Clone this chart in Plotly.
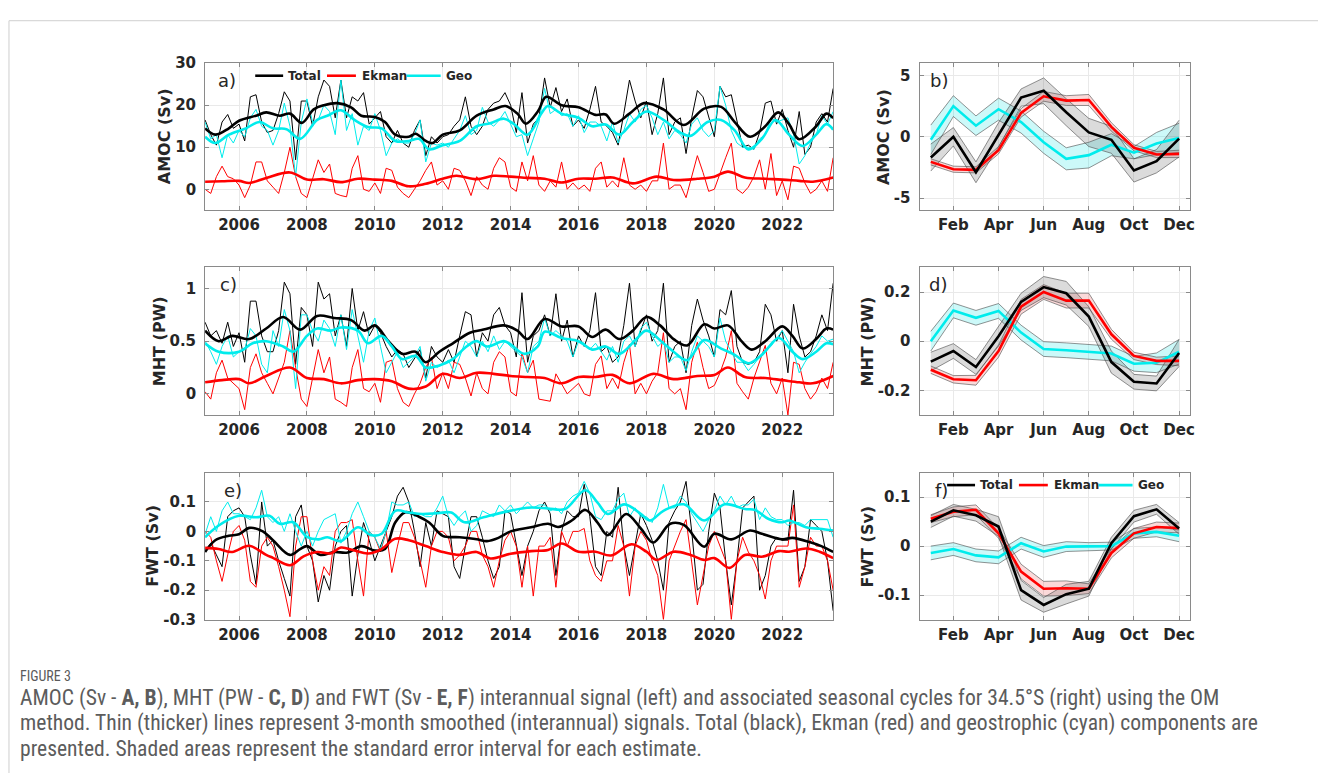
import numpy as np
import plotly.graph_objects as go

W, H = 1322, 782

# ---------------- time axes ----------------
t_thin = 2005 + np.arange(112) / 6.0  # bi-monthly samples 2005.0 .. 2023.5

# ---------------- panel a : AMOC (Sv) ----------------
a_tot_thin = [16.5, 13.0, 10.5, 16.0, 17.8, 14.5,
              15.5, 11.5, 22.0, 22.5, 16.0, 13.5,
              14.0, 18.0, 23.2, 21.0, 7.0, 21.0,
              21.0, 15.0, 22.0, 26.0, 24.5, 17.0,
              26.0, 17.0, 22.0, 21.0, 23.0, 15.5,
              17.0, 18.5, 12.5, 11.0, 14.0, 11.0,
              10.0, 14.0, 16.5, 8.0, 12.5, 11.0,
              12.5, 13.0, 15.0, 16.5, 22.0, 15.0,
              13.0, 15.0, 19.0, 20.5, 21.0, 23.0,
              20.0, 13.5, 23.0, 11.0, 15.5, 17.0,
              26.5, 19.5, 24.2, 18.5, 21.5, 15.0,
              16.5, 14.5, 19.0, 24.5, 16.0, 15.0,
              13.5, 10.5, 18.0, 26.0, 21.0, 17.0,
              21.0, 13.0, 18.0, 26.5, 13.0, 16.0,
              17.0, 8.5, 17.0, 23.5, 22.0, 17.0,
              12.5, 24.5, 22.0, 22.5, 16.0, 10.0,
              10.5, 9.5, 13.5, 20.5, 21.0, 15.5,
              19.0, 14.0, 10.0, 18.5, 8.3, 10.0,
              16.0, 18.0, 16.0, 24.0]
a_geo_thin = [16.0, 12.0, 13.0, 7.5, 13.0, 11.0,
              14.0, 12.5, 17.0, 19.0, 15.0, 14.0,
              10.5, 14.0, 20.5, 15.0, 3.0, 16.0,
              21.5, 16.0, 16.5, 20.0, 18.5, 13.0,
              26.0, 14.0, 18.0, 10.5, 15.0, 14.0,
              18.0, 14.0, 8.0, 11.0, 12.0, 11.0,
              11.0, 13.0, 16.5, 6.5, 11.0, 10.5,
              11.0, 10.0, 12.0, 14.0, 17.5, 13.0,
              14.0, 19.5, 16.0, 15.0, 16.5, 18.5,
              15.5, 12.5, 13.0, 8.0, 12.0, 16.0,
              24.0, 18.0, 19.0, 17.5, 18.0, 15.0,
              17.5, 13.5, 16.0, 16.0, 15.0, 11.5,
              16.0, 11.0, 14.0, 18.0, 16.0, 19.0,
              20.0, 17.0, 13.0, 16.0, 12.0, 14.0,
              13.0, 11.0, 15.5, 17.0, 14.0, 12.5,
              14.0, 24.5, 20.0, 14.0, 11.0, 10.0,
              10.0, 9.5, 12.0, 13.0, 17.0, 16.0,
              16.5, 17.0, 13.0, 6.0, 8.0, 11.0,
              13.0, 17.5, 15.5, 18.5]
a_ekm_thin = [0.0, -1.0, 3.0, 5.5, 3.0, 2.5,
              1.0, -2.0, 1.0, 6.5, 6.5, 2.0,
              0.5, -1.0, 4.0, 10.0, 3.0, -1.0,
              -2.0, 2.5, 7.0, 4.0, 6.0, -1.0,
              -1.5, -1.8, 5.0, 8.0, 0.0, -0.5,
              1.5, -1.0, 5.0, 4.5, 0.5, -1.0,
              -2.0, 0.0, 2.0, 4.5, 6.5, 1.0,
              2.0, 0.0, 5.0, 4.5, 2.0, -1.5,
              3.0, 1.0, 0.0, 5.0, 7.5, 6.5,
              0.5, -0.5, 6.5, 2.0, 8.0, 1.0,
              -0.5, 2.0, 0.5, 6.5, 0.0, 1.5,
              0.0, 1.0, -0.5, 5.0, 6.5, 0.5,
              2.0, 0.5, 7.5, 1.0, 0.0, 1.0,
              -0.5, 2.0, 2.0, 11.0, 0.0, 1.0,
              1.0, -2.0, 3.0, 8.0, 4.0, -0.5,
              0.0, 4.0, 7.5, 11.0, 0.0, -1.0,
              0.5, 3.0, 7.0, 0.0, 8.5, -1.5,
              2.0, -2.5, 5.5, 5.0, 1.5, -1.0,
              0.0, 2.0, -0.5, 7.5]

a_tot_t = [2005.0, 2005.3, 2005.7, 2006.0, 2006.5, 2006.8, 2007.2, 2007.5, 2007.85, 2008.2,
           2008.5, 2008.9, 2009.3, 2009.6, 2010.0, 2010.3, 2010.6, 2011.0, 2011.2, 2011.5,
           2011.7, 2012.0, 2012.5, 2013.0, 2013.5, 2013.85, 2014.2, 2014.45, 2014.8, 2015.05,
           2015.5, 2016.0, 2016.5, 2016.8, 2017.05, 2017.5, 2017.93, 2018.5, 2019.1, 2019.7,
           2020.2, 2020.6, 2021.05, 2021.5, 2021.88, 2022.2, 2022.5, 2023.0, 2023.3, 2023.5]
a_tot_v = [14.5, 13.0, 14.5, 16.3, 17.5, 18.3, 17.5, 18.0, 15.8, 19.0,
           20.0, 20.5, 19.5, 17.5, 17.2, 16.0, 13.0, 12.5, 13.2, 11.5,
           11.0, 13.0, 14.0, 17.5, 19.0, 19.8, 18.0, 15.6, 18.5, 22.0,
           20.0, 19.5, 17.7, 17.8, 15.6, 18.0, 20.5, 19.0, 15.3, 19.2,
           19.6, 16.0, 12.5, 15.0, 18.3, 15.5, 11.9, 15.0, 18.0, 16.9]
a_geo_t = [2005.0, 2005.3, 2005.7, 2006.2, 2006.6, 2007.0, 2007.4, 2007.8, 2008.3, 2008.6,
           2009.0, 2009.4, 2009.8, 2010.2, 2010.6, 2011.0, 2011.3, 2011.6, 2012.0, 2012.5,
           2013.0, 2013.4, 2013.8, 2014.1, 2014.5, 2014.9, 2015.1, 2015.5, 2016.0, 2016.4,
           2016.8, 2017.2, 2017.6, 2018.0, 2018.5, 2019.0, 2019.3, 2019.8, 2020.2, 2020.6,
           2021.0, 2021.4, 2021.8, 2022.2, 2022.6, 2023.0, 2023.3, 2023.5]
a_geo_v = [12.5, 11.0, 13.0, 14.5, 16.0, 14.5, 14.3, 12.0, 16.5, 17.5,
           18.8, 16.5, 14.8, 14.5, 11.5, 11.5, 12.0, 9.5, 10.5, 11.5,
           15.0, 15.7, 16.8, 15.5, 13.0, 18.0, 19.8, 18.0, 17.0, 15.0,
           15.4, 13.0, 16.0, 18.5, 16.5, 13.5, 12.7, 16.0, 16.5, 14.0,
           9.5, 12.0, 16.5, 13.0, 10.3, 13.0, 15.5, 14.2]
a_ekm_t = [2005.0, 2005.5, 2006.0, 2006.3, 2006.8, 2007.5, 2008.0, 2008.5, 2009.0, 2009.5,
           2010.0, 2010.5, 2011.0, 2011.5, 2012.0, 2012.4, 2013.0, 2013.5, 2014.0, 2014.5,
           2015.0, 2015.5, 2016.0, 2016.5, 2017.0, 2017.6, 2018.3, 2018.8, 2019.5, 2020.0,
           2020.4, 2020.9, 2021.5, 2022.0, 2022.5, 2022.9, 2023.5]
a_ekm_v = [1.8, 1.9, 2.0, 1.5, 2.7, 4.0, 2.3, 2.4, 1.7, 2.5,
           2.3, 2.0, 0.7, 1.3, 2.5, 3.2, 2.4, 3.2, 3.0, 2.7,
           2.5, 1.6, 2.5, 2.5, 2.8, 1.4, 3.0, 2.2, 2.5, 3.0,
           4.2, 2.8, 2.5, 2.3, 2.0, 1.8, 2.8]

# ---------------- panel c : MHT (PW) ----------------
c_tot_thin = [0.68, 0.55, 0.60, 0.48, 0.68, 0.45,
              0.58, 0.30, 0.88, 0.88, 0.55, 0.40,
              0.40, 0.60, 1.06, 0.95, 0.28, 0.82,
              0.75, 0.45, 1.06, 0.90, 0.95, 0.55,
              0.75, 0.45, 1.00, 0.60, 0.78, 0.55,
              0.65, 0.58, 0.45, 0.35, 0.42, 0.38,
              0.25, 0.33, 0.42, 0.15, 0.45, 0.35,
              0.30, 0.42, 0.30, 0.55, 0.78, 0.75,
              0.35, 0.58, 0.50, 0.75, 0.82, 0.65,
              0.58, 0.35, 0.96, 0.30, 0.55, 0.60,
              0.75, 0.55, 0.95, 0.50, 0.70, 0.35,
              0.55, 0.45, 0.60, 0.96, 0.40, 0.45,
              0.30, 0.35, 0.65, 1.05, 0.45, 0.60,
              0.75, 0.50, 0.60, 1.05, 0.30, 0.45,
              0.50, 0.20, 0.65, 0.90, 0.70, 0.55,
              0.35, 0.80, 0.75, 0.98, 0.45, 0.30,
              0.28, 0.30, 0.40, 0.85, 0.75, 0.50,
              0.60, 0.20, 0.85, 0.55, 0.35, 0.40,
              0.55, 0.75, 0.60, 1.05]
c_geo_thin = [0.50, 0.40, 0.28, 0.45, 0.55, 0.35,
              0.40, 0.42, 0.62, 0.55, 0.28, 0.20,
              0.60, 0.45, 0.80, 0.60, 0.05, 0.75,
              0.75, 0.60, 0.50, 0.70, 0.62, 0.45,
              0.75, 0.42, 0.80, 0.55, 0.30, 0.60,
              0.72, 0.45, 0.20, 0.30, 0.40, 0.25,
              0.30, 0.35, 0.45, 0.12, 0.30, 0.25,
              0.28, 0.32, 0.20, 0.35, 0.50, 0.45,
              0.35, 0.50, 0.40, 0.55, 0.42, 0.50,
              0.45, 0.40, 0.35, 0.20, 0.45, 0.50,
              0.72, 0.55, 0.60, 0.55, 0.50, 0.35,
              0.50, 0.48, 0.42, 0.48, 0.40, 0.32,
              0.45, 0.30, 0.50, 0.55, 0.45, 0.62,
              0.68, 0.55, 0.45, 0.50, 0.30, 0.35,
              0.35, 0.22, 0.40, 0.55, 0.50, 0.45,
              0.35, 0.72, 0.50, 0.40, 0.30, 0.30,
              0.22, 0.28, 0.35, 0.42, 0.45, 0.52,
              0.60, 0.50, 0.40, 0.20, 0.30, 0.38,
              0.45, 0.55, 0.50, 0.52]
c_ekm_thin = [0.02, -0.05, 0.20, 0.32, 0.15, 0.10,
              0.05, -0.15, 0.25, 0.38, 0.20, 0.10,
              0.00, 0.15, 0.30, 0.60, 0.25, -0.05,
              -0.12, 0.15, 0.42, 0.20, 0.35, -0.05,
              -0.08, -0.12, 0.25, 0.42, 0.05, 0.02,
              0.10, -0.08, 0.30, 0.32, 0.05, -0.08,
              -0.12, 0.00, 0.10, 0.25, 0.35, 0.05,
              0.20, 0.05, 0.30, 0.28, 0.15, -0.02,
              0.20, 0.05, 0.00, 0.30, 0.40, 0.35,
              0.02, -0.02, 0.39, 0.20, 0.32, -0.05,
              -0.06, -0.07, 0.19, 0.10, 0.00, 0.05,
              0.10, 0.00, -0.02, 0.28, 0.36, 0.05,
              0.15, 0.05, 0.30, 0.47, 0.00, 0.10,
              0.00, 0.12, 0.20, 0.58, 0.05, 0.00,
              0.05, -0.15, 0.30, 0.49, 0.25, 0.05,
              0.08, 0.20, 0.35, 0.60, 0.10, 0.02,
              -0.05, 0.15, 0.30, 0.46, 0.10, 0.00,
              0.15, -0.20, 0.30, 0.28, 0.05, -0.05,
              0.02, 0.15, 0.05, 0.30]

c_tot_t = [2005.0, 2005.4, 2005.8, 2006.3, 2006.8, 2007.3, 2007.8, 2008.3, 2008.8, 2009.3,
           2009.7, 2010.0, 2010.4, 2010.8, 2011.2, 2011.5, 2011.9, 2012.3, 2012.8, 2013.2,
           2013.8, 2014.2, 2014.5, 2015.0, 2015.5, 2016.0, 2016.4, 2016.8, 2017.2, 2017.6,
           2018.0, 2018.4, 2018.8, 2019.2, 2019.7, 2020.0, 2020.4, 2020.8, 2021.1, 2021.5,
           2022.0, 2022.3, 2022.6, 2023.0, 2023.3, 2023.5]
c_tot_v = [0.60, 0.50, 0.55, 0.52, 0.62, 0.73, 0.61, 0.74, 0.72, 0.70,
           0.60, 0.65, 0.50, 0.38, 0.40, 0.30, 0.40, 0.48, 0.58, 0.61,
           0.65, 0.60, 0.52, 0.71, 0.64, 0.64, 0.54, 0.61, 0.52, 0.60,
           0.73, 0.65, 0.52, 0.46, 0.66, 0.62, 0.65, 0.50, 0.42, 0.50,
           0.64, 0.55, 0.43, 0.52, 0.62, 0.61]
c_geo_t = [2005.0, 2005.4, 2006.0, 2006.4, 2006.8, 2007.3, 2007.6, 2008.0, 2008.3, 2008.7,
           2009.0, 2009.5, 2009.8, 2010.2, 2010.5, 2010.8, 2011.2, 2011.5, 2011.9, 2012.3,
           2012.7, 2013.0, 2013.3, 2013.8, 2014.0, 2014.4, 2014.8, 2015.0, 2015.5, 2016.0,
           2016.4, 2016.8, 2017.2, 2017.7, 2018.0, 2018.5, 2018.8, 2019.2, 2019.7, 2020.2,
           2020.6, 2021.0, 2021.4, 2021.9, 2022.3, 2022.6, 2023.0, 2023.3, 2023.5]
c_geo_v = [0.48, 0.40, 0.40, 0.48, 0.50, 0.45, 0.40, 0.55, 0.62, 0.60,
           0.63, 0.60, 0.48, 0.55, 0.45, 0.33, 0.36, 0.25, 0.27, 0.33,
           0.45, 0.50, 0.45, 0.50, 0.47, 0.38, 0.45, 0.59, 0.53, 0.50,
           0.42, 0.45, 0.38, 0.52, 0.60, 0.48, 0.40, 0.32, 0.51, 0.43,
           0.37, 0.29, 0.37, 0.53, 0.40, 0.33, 0.40, 0.48, 0.47]
c_ekm_t = [2005.0, 2005.5, 2006.0, 2006.3, 2006.8, 2007.5, 2008.0, 2008.5, 2009.0, 2009.5,
           2010.0, 2010.5, 2011.0, 2011.5, 2012.0, 2012.5, 2013.0, 2013.5, 2014.0, 2014.5,
           2015.0, 2015.5, 2016.0, 2016.5, 2017.0, 2017.5, 2018.2, 2018.8, 2019.5, 2020.0,
           2020.4, 2020.9, 2021.5, 2022.0, 2022.5, 2022.9, 2023.5]
c_ekm_v = [0.11, 0.13, 0.14, 0.10, 0.17, 0.25, 0.15, 0.14, 0.10, 0.13,
           0.14, 0.12, 0.05, 0.07, 0.19, 0.15, 0.20, 0.19, 0.17, 0.16,
           0.15, 0.10, 0.16, 0.16, 0.18, 0.10, 0.19, 0.14, 0.17, 0.18,
           0.25, 0.16, 0.15, 0.13, 0.11, 0.10, 0.17]

# ---------------- panel e : FWT (Sv) ----------------
e_tot_thin = [-0.07, -0.04, -0.08, -0.12, 0.05, 0.07,
              0.08, 0.05, -0.08, -0.18, 0.10, -0.05,
              -0.03, -0.10, -0.16, -0.22, 0.05, 0.09,
              -0.05, -0.10, -0.24, -0.15, -0.20, -0.05,
              0.00, 0.02, -0.22, -0.08, 0.03, -0.03,
              -0.10, -0.05, 0.00, 0.05, 0.12, 0.15,
              0.10, 0.00, -0.12, 0.03, -0.05, 0.07,
              0.06, 0.05, -0.12, -0.16, -0.05, 0.05,
              0.05, -0.02, -0.10, -0.16, -0.12, 0.07,
              0.06, -0.05, -0.15, -0.05, 0.00, 0.07,
              0.10, 0.06, -0.15, 0.00, 0.07, 0.05,
              0.05, 0.16, 0.05, -0.12, -0.15, 0.00,
              -0.02, 0.15, -0.05, -0.15, -0.05, 0.06,
              0.02, -0.03, -0.10, -0.20, 0.03, 0.07,
              0.10, 0.17, 0.00, -0.20, -0.18, 0.00,
              0.13, 0.08, -0.10, -0.25, -0.10, 0.08,
              0.10, 0.12, -0.20, -0.15, -0.05, -0.02,
              -0.03, -0.03, 0.14, -0.17, -0.12, 0.04,
              0.02, 0.00, -0.10, -0.27]
e_geo_thin = [-0.01, 0.05, 0.00, 0.07, 0.10, 0.06,
              0.06, 0.05, 0.04, 0.08, 0.14, 0.05,
              0.03, 0.05, 0.00, 0.06, 0.00, -0.05,
              0.00, -0.05, 0.00, 0.04, 0.05, 0.06,
              -0.04, 0.00, 0.06, 0.10, 0.05, 0.00,
              -0.02, -0.06, 0.00, 0.10, 0.09, 0.09,
              0.10, 0.05, 0.06, 0.05, 0.05, 0.08,
              0.12, 0.05, 0.02, 0.05, 0.07, 0.00,
              0.02, 0.07, 0.06, 0.05, 0.09, 0.07,
              0.09, 0.06, 0.08, 0.10, 0.08, 0.09,
              0.09, 0.07, 0.08, 0.06, 0.10, 0.12,
              0.13, 0.17, 0.13, 0.05, 0.04, 0.07,
              0.07, 0.11, 0.13, 0.05, 0.08, 0.05,
              0.05, 0.03, 0.08, 0.16, 0.08, 0.08,
              0.12, 0.10, 0.06, 0.03, 0.00, 0.04,
              0.07, 0.12, 0.09, 0.12, 0.08, 0.09,
              0.09, 0.11, 0.04, 0.08, 0.05, 0.04,
              0.04, 0.02, 0.03, 0.03, 0.02, 0.04,
              0.04, 0.04, 0.04, -0.02]
e_ekm_thin = [0.00, -0.02, -0.10, -0.17, -0.08, 0.00,
              0.02, -0.03, -0.17, -0.19, -0.05, -0.02,
              -0.05, -0.12, -0.20, -0.29, -0.05, 0.05,
              0.05, -0.10, -0.20, -0.12, -0.15, 0.00,
              0.03, 0.03, 0.04, -0.10, -0.22, 0.00,
              -0.02, -0.07, 0.00, -0.14, -0.05, 0.03,
              0.03, -0.02, -0.10, -0.19, -0.05, 0.00,
              0.00, -0.02, -0.10, -0.08, -0.05, 0.00,
              0.00, -0.08, -0.12, -0.19, -0.10, -0.03,
              0.00, -0.05, -0.19, -0.05, -0.22, -0.05,
              -0.05, -0.02, -0.19, 0.00, -0.05, 0.00,
              0.00, 0.01, -0.10, -0.15, -0.17, -0.10,
              -0.10, 0.02, -0.05, -0.22, -0.05, 0.00,
              -0.03, -0.10, -0.15, -0.30, -0.10, -0.05,
              0.00, 0.04, -0.10, -0.25, -0.15, -0.05,
              0.00, -0.05, -0.10, -0.30, -0.10, -0.02,
              -0.07, -0.10, -0.15, -0.23, -0.10, -0.05,
              -0.05, -0.05, 0.09, -0.19, -0.12, -0.02,
              -0.05, -0.05, -0.10, -0.20]

e_tot_t = [2005.0, 2005.3, 2005.7, 2006.0, 2006.3, 2006.7, 2007.0, 2007.5, 2007.8, 2008.0,
           2008.4, 2008.8, 2009.2, 2009.6, 2010.0, 2010.3, 2010.6, 2010.9, 2011.3, 2011.6,
           2012.0, 2012.5, 2013.0, 2013.3, 2013.64, 2014.0, 2014.6, 2015.1, 2015.4, 2015.8,
           2016.2, 2016.56, 2016.86, 2017.4, 2017.84, 2018.2, 2018.7, 2019.1, 2019.7, 2020.0,
           2020.5, 2021.05, 2021.4, 2022.0, 2022.3, 2022.8, 2023.15, 2023.5]
e_tot_v = [-0.07, -0.03, -0.015, -0.01, 0.012, 0.0, -0.03, -0.08, -0.06, -0.05,
           -0.08, -0.07, -0.072, -0.05, -0.065, -0.06, 0.03, 0.065, 0.05, 0.03,
           -0.015, -0.02, -0.027, -0.033, -0.022, 0.0, 0.014, 0.026, 0.015, 0.037,
           0.073, 0.03, -0.013, 0.059, 0.009, -0.038, 0.026, 0.022, -0.052, -0.008,
           -0.027, 0.003, -0.008, -0.027, -0.022, -0.036, -0.05, -0.07]
e_geo_t = [2005.0, 2005.4, 2006.0, 2006.5, 2006.9, 2007.2, 2007.6, 2008.0, 2008.35, 2008.6,
           2009.0, 2009.5, 2009.9, 2010.2, 2010.6, 2011.0, 2011.4, 2011.86, 2012.25, 2012.64,
           2013.2, 2013.9, 2014.6, 2015.1, 2015.6, 2016.2, 2016.56, 2016.86, 2017.35, 2017.84,
           2018.1, 2018.5, 2019.1, 2019.7, 2020.3, 2020.9, 2021.2, 2021.6, 2022.0, 2022.2,
           2022.7, 2023.1, 2023.5]
e_geo_v = [-0.02, 0.02, 0.053, 0.048, 0.053, 0.026, 0.031, -0.019, -0.027, -0.02,
           -0.033, 0.014, -0.013, -0.008, 0.07, 0.064, 0.059, 0.062, 0.064, 0.031,
           0.048, 0.068, 0.081, 0.078, 0.076, 0.14, 0.098, 0.059, 0.092, 0.059,
           0.037, 0.07, 0.092, 0.037, 0.092, 0.076, 0.073, 0.042, 0.031, 0.037,
           0.014, 0.009, 0.003]
e_ekm_t = [2005.0, 2005.4, 2005.8, 2006.3, 2006.8, 2007.0, 2007.5, 2007.9, 2008.3, 2008.7,
           2009.0, 2009.4, 2009.8, 2010.2, 2010.6, 2011.0, 2011.5, 2012.0, 2012.5, 2013.0,
           2013.4, 2014.0, 2014.6, 2015.1, 2015.5, 2016.0, 2016.5, 2016.96, 2017.55, 2018.0,
           2018.3, 2018.8, 2019.3, 2019.7, 2020.0, 2020.45, 2020.9, 2021.4, 2021.9, 2022.2,
           2022.7, 2023.1, 2023.5]
e_ekm_v = [-0.056, -0.06, -0.07, -0.049, -0.08, -0.09, -0.115, -0.085, -0.07, -0.075,
           -0.055, -0.065, -0.075, -0.06, -0.025, -0.03, -0.05, -0.07, -0.08, -0.07,
           -0.092, -0.076, -0.067, -0.063, -0.041, -0.069, -0.069, -0.082, -0.044, -0.069,
           -0.097, -0.069, -0.08, -0.097, -0.091, -0.124, -0.08, -0.086, -0.067, -0.069,
           -0.058, -0.069, -0.091]

# ---------------- seasonal cycles (right panels) ----------------
months = [1, 2, 3, 4, 5, 6, 7, 8, 9, 10, 11, 12]
month_ticks = [2, 4, 6, 8, 10, 12]
month_labels = ["Feb", "Apr", "Jun", "Aug", "Oct", "Dec"]
year_ticks = [2006, 2008, 2010, 2012, 2014, 2016, 2018, 2020, 2022]

b_tot = [-1.7, 0.0, -2.9, 0.15, 3.2, 3.75, 2.0, 0.35, -0.25, -2.75, -2.0, -0.15]
b_tot_err = [1.1, 0.75, 0.85, 1.0, 0.7, 1.05, 1.1, 1.15, 1.1, 0.95, 0.95, 1.5]
b_ekm = [-2.05, -2.65, -2.7, -1.1, 1.95, 3.3, 2.95, 3.0, 0.8, -0.9, -1.45, -1.4]
b_ekm_err = [0.25, 0.25, 0.25, 0.3, 0.35, 0.4, 0.4, 0.45, 0.35, 0.25, 0.25, 0.3]
b_geo = [-0.25, 2.5, 0.9, 2.25, 1.2, -0.45, -1.8, -1.5, -0.65, -1.3, -0.55, -0.1]
b_geo_err = [1.2, 0.85, 0.8, 0.9, 0.9, 0.9, 0.9, 1.05, 0.9, 0.5, 0.9, 1.2]

d_tot = [-0.083, -0.04, -0.105, 0.02, 0.16, 0.22, 0.195, 0.1, -0.085, -0.165, -0.172, -0.048]
d_tot_err = [0.038, 0.03, 0.03, 0.04, 0.035, 0.043, 0.048, 0.04, 0.045, 0.03, 0.03, 0.055]
d_ekm = [-0.116, -0.155, -0.159, -0.04, 0.14, 0.2, 0.165, 0.165, 0.028, -0.06, -0.08, -0.08]
d_ekm_err = [0.015, 0.015, 0.02, 0.025, 0.03, 0.03, 0.03, 0.03, 0.02, 0.015, 0.015, 0.02]
d_geo = [0.0, 0.125, 0.095, 0.123, 0.035, -0.032, -0.037, -0.045, -0.05, -0.092, -0.088, -0.043]
d_geo_err = [0.04, 0.03, 0.03, 0.03, 0.03, 0.03, 0.03, 0.03, 0.03, 0.03, 0.04, 0.05]

f_tot = [0.05, 0.073, 0.063, 0.04, -0.09, -0.12, -0.098, -0.087, 0.006, 0.061, 0.075, 0.036]
f_tot_err = [0.012, 0.012, 0.012, 0.02, 0.02, 0.015, 0.02, 0.015, 0.012, 0.012, 0.01, 0.012]
f_ekm = [0.056, 0.07, 0.074, 0.026, -0.052, -0.087, -0.086, -0.087, -0.014, 0.026, 0.039, 0.037]
f_ekm_err = [0.008, 0.01, 0.01, 0.01, 0.015, 0.015, 0.015, 0.01, 0.01, 0.01, 0.01, 0.01]
f_geo = [-0.014, -0.006, -0.019, -0.023, 0.006, -0.011, -0.001, -0.001, 0.0, 0.026, 0.029, 0.021]
f_geo_err = [0.014, 0.013, 0.013, 0.013, 0.012, 0.012, 0.01, 0.008, 0.008, 0.01, 0.01, 0.012]

# ---------------- styling ----------------
BLACK = "#000000"
RED = "#ff0000"
CYAN = "#00ecec"
FONT = "DejaVu Sans"
TXT = "#262626"


def px(x):
    return x / W


def py(y):
    return 1 - y / H


fig = go.Figure()


def ax(n):
    return ("x" if n == 1 else "x%d" % n), ("y" if n == 1 else "y%d" % n)


def thin(n, t, v, color):
    xa, ya = ax(n)
    fig.add_trace(go.Scatter(x=t, y=v, mode="lines", xaxis=xa, yaxis=ya,
                             line=dict(color=color, width=1), showlegend=False,
                             hoverinfo="skip"))


def thick(n, t, v, color):
    xa, ya = ax(n)
    fig.add_trace(go.Scatter(x=t, y=v, mode="lines", xaxis=xa, yaxis=ya,
                             line=dict(color=color, width=2.6, shape="spline", smoothing=1.0),
                             showlegend=False, hoverinfo="skip"))


def band(n, m, v, e, fill):
    xa, ya = ax(n)
    v = np.array(v)
    e = np.array(e)
    fig.add_trace(go.Scatter(x=m, y=v + e, mode="lines", xaxis=xa, yaxis=ya,
                             line=dict(color="#4a4a4a", width=0.6), showlegend=False,
                             hoverinfo="skip"))
    fig.add_trace(go.Scatter(x=m, y=v - e, mode="lines", xaxis=xa, yaxis=ya,
                             line=dict(color="#4a4a4a", width=0.6), fill="tonexty",
                             fillcolor=fill, showlegend=False, hoverinfo="skip"))


def sline(n, m, v, color):
    xa, ya = ax(n)
    fig.add_trace(go.Scatter(x=m, y=v, mode="lines", xaxis=xa, yaxis=ya,
                             line=dict(color=color, width=2.6), showlegend=False,
                             hoverinfo="skip"))


for n, tt, ee, gg, T, E, G in [
    (1, a_tot_thin, a_ekm_thin, a_geo_thin, (a_tot_t, a_tot_v), (a_ekm_t, a_ekm_v), (a_geo_t, a_geo_v)),
    (3, c_tot_thin, c_ekm_thin, c_geo_thin, (c_tot_t, c_tot_v), (c_ekm_t, c_ekm_v), (c_geo_t, c_geo_v)),
    (5, e_tot_thin, e_ekm_thin, e_geo_thin, (e_tot_t, e_tot_v), (e_ekm_t, e_ekm_v), (e_geo_t, e_geo_v)),
]:
    thin(n, t_thin, tt, BLACK)
    thin(n, t_thin, ee, RED)
    thin(n, t_thin, gg, CYAN)
    thick(n, T[0], T[1], BLACK)
    thick(n, E[0], E[1], RED)
    thick(n, G[0], G[1], CYAN)

for n, tot, te, ekm, ke, geo, ge in [
    (2, b_tot, b_tot_err, b_ekm, b_ekm_err, b_geo, b_geo_err),
    (4, d_tot, d_tot_err, d_ekm, d_ekm_err, d_geo, d_geo_err),
    (6, f_tot, f_tot_err, f_ekm, f_ekm_err, f_geo, f_geo_err),
]:
    band(n, months, geo, ge, "rgba(0,225,225,0.20)")
    band(n, months, ekm, ke, "rgba(230,0,0,0.15)")
    band(n, months, tot, te, "rgba(90,90,90,0.22)")
    sline(n, months, geo, CYAN)
    sline(n, months, ekm, RED)
    sline(n, months, tot, BLACK)

tickfont = dict(family=FONT, size=15, color=TXT, weight="bold")
LEFT_X = [px(205.7), px(835.7)]
RIGHT_X = [px(922.3), px(1194)]
ROWS = [[py(206), py(55.5)], [py(415.5), py(264.5)], [py(625), py(474.5)]]


def axis_common():
    return dict(showline=True, linecolor="#8a8a8a", linewidth=1, mirror="ticks",
                ticks="inside", ticklen=4, tickcolor="#8a8a8a", showgrid=True,
                gridcolor="#e9e9e9", gridwidth=1, zeroline=False, tickfont=tickfont)


layout_axes = {}
yinfo = {
    1: ([-5, 30], [0, 10, 20, 30], ["0", "10", "20", "30"]),
    3: ([-0.2, 1.2], [0, 0.5, 1], ["0", "0.5", "1"]),
    5: ([-0.3, 0.2], [-0.3, -0.2, -0.1, 0, 0.1], ["-0.3", "-0.2", "-0.1", "0", "0.1"]),
    2: ([-6, 6], [-5, 0, 5], ["-5", "0", "5"]),
    4: ([-0.3, 0.3], [-0.2, 0, 0.2], ["-0.2", "0", "0.2"]),
    6: ([-0.15, 0.15], [-0.1, 0, 0.1], ["-0.1", "0", "0.1"]),
}
for n in range(1, 7):
    row = (n - 1) // 2
    left = (n % 2 == 1)
    xk = "xaxis" if n == 1 else "xaxis%d" % n
    yk = "yaxis" if n == 1 else "yaxis%d" % n
    xa = axis_common()
    ya = axis_common()
    if left:
        xa.update(domain=LEFT_X, range=[2005, 2023.5], tickvals=year_ticks,
                  ticktext=[str(y) for y in year_ticks])
    else:
        xa.update(domain=RIGHT_X, range=[0.5, 12.5], tickvals=month_ticks,
                  ticktext=month_labels)
    xa.update(anchor=ax(n)[1], ticklabelstandoff=1)
    rng, tv, tt = yinfo[n]
    ya.update(domain=ROWS[row], range=rng, tickvals=tv, ticktext=tt,
              anchor=ax(n)[0], ticklabelstandoff=5)
    layout_axes[xk] = xa
    layout_axes[yk] = ya

annotations = []
for label, xc, y0, y1 in [("AMOC (Sv)", 165, 55.5, 206), ("MHT (PW)", 159.5, 264.5, 415.5),
                          ("FWT (Sv)", 153, 474.5, 625), ("AMOC (Sv)", 886, 55.5, 206),
                          ("MHT (PW)", 870, 264.5, 415.5), ("FWT (Sv)", 870, 474.5, 625)]:
    annotations.append(dict(text="<b>%s</b>" % label, x=px(xc), y=py((y0 + y1) / 2),
                            xref="paper", yref="paper", showarrow=False, textangle=-90,
                            xanchor="center", yanchor="middle",
                            font=dict(family=FONT, size=16, color=TXT)))
for label, xl, yc in [("a)", 217, 73), ("b)", 931, 73), ("c)", 219, 282),
                      ("d)", 930, 282), ("e)", 223, 493), ("f)", 936, 493)]:
    annotations.append(dict(text=label, x=px(xl), y=py(yc), xref="paper", yref="paper",
                            showarrow=False, xanchor="left", yanchor="middle",
                            font=dict(family=FONT, size=18, color=TXT)))

shapes = []
for ycen, segs in [(68.3, [(256, 284, 287, "Total", BLACK), (328, 357, 361, "Ekman", RED),
                           (408, 442, 445, "Geo", CYAN)]),
                   (487.3, [(950, 978, 981, "Total", BLACK), (1022, 1051, 1055, "Ekman", RED),
                            (1102, 1136, 1139, "Geo", CYAN)])]:
    for x0, x1, xt, lab, col in segs:
        shapes.append(dict(type="line", xref="paper", yref="paper", x0=px(x0), x1=px(x1),
                           y0=py(ycen), y1=py(ycen), line=dict(color=col, width=2.6)))
        annotations.append(dict(text="<b>%s</b>" % lab, x=px(xt), y=py(ycen), xref="paper",
                                yref="paper", showarrow=False, xanchor="left",
                                yanchor="middle", font=dict(family=FONT, size=12, color=TXT)))

shapes.append(dict(type="line", xref="paper", yref="paper", x0=px(9), x1=1, y0=py(12), y1=py(12),
                   line=dict(color="#cfcfcf", width=1)))
shapes.append(dict(type="line", xref="paper", yref="paper", x0=px(9), x1=px(9), y0=py(12), y1=0,
                   line=dict(color="#cfcfcf", width=1)))

CAP = "Liberation Sans Narrow, Arial Narrow, Roboto Condensed, Liberation Sans, sans-serif"
annotations.append(dict(text="FIGURE 3", x=px(18), y=py(683), xref="paper", yref="paper",
                        showarrow=False, xanchor="left", yanchor="middle",
                        font=dict(family=CAP, size=14, color="#5a5a5a")))
cap_lines = [
    "AMOC (Sv - <b>A, B</b>), MHT (PW - <b>C, D</b>) and FWT (Sv - <b>E, F</b>) interannual signal (left) and associated seasonal cycles for 34.5°S (right) using the OM",
    "method. Thin (thicker) lines represent 3-month smoothed (interannual) signals. Total (black), Ekman (red) and geostrophic (cyan) components are",
    "presented. Shaded areas represent the standard error interval for each estimate.",
]
for i, line in enumerate(cap_lines):
    annotations.append(dict(text=line, x=px(18), y=py(705.5 + 25.5 * i), xref="paper",
                            yref="paper", showarrow=False, xanchor="left", yanchor="middle",
                            font=dict(family=CAP, size=21.6, color="#5c5c5c")))

fig.update_layout(width=W, height=H, margin=dict(l=0, r=0, t=0, b=0),
                  paper_bgcolor="white", plot_bgcolor="white", showlegend=False,
                  annotations=annotations, shapes=shapes, **layout_axes)

POST = ("var s=document.createElement('style');"
        "s.innerHTML='html,body{margin:0 !important;padding:0 !important;overflow:hidden;}';"
        "document.head.appendChild(s);"
        "var d=document.getElementById('{plot_id}');"
        "d.style.position='absolute';d.style.left='0px';d.style.top='0px';")

fig.write_html("out.html", config={"displayModeBar": False}, post_script=POST)
